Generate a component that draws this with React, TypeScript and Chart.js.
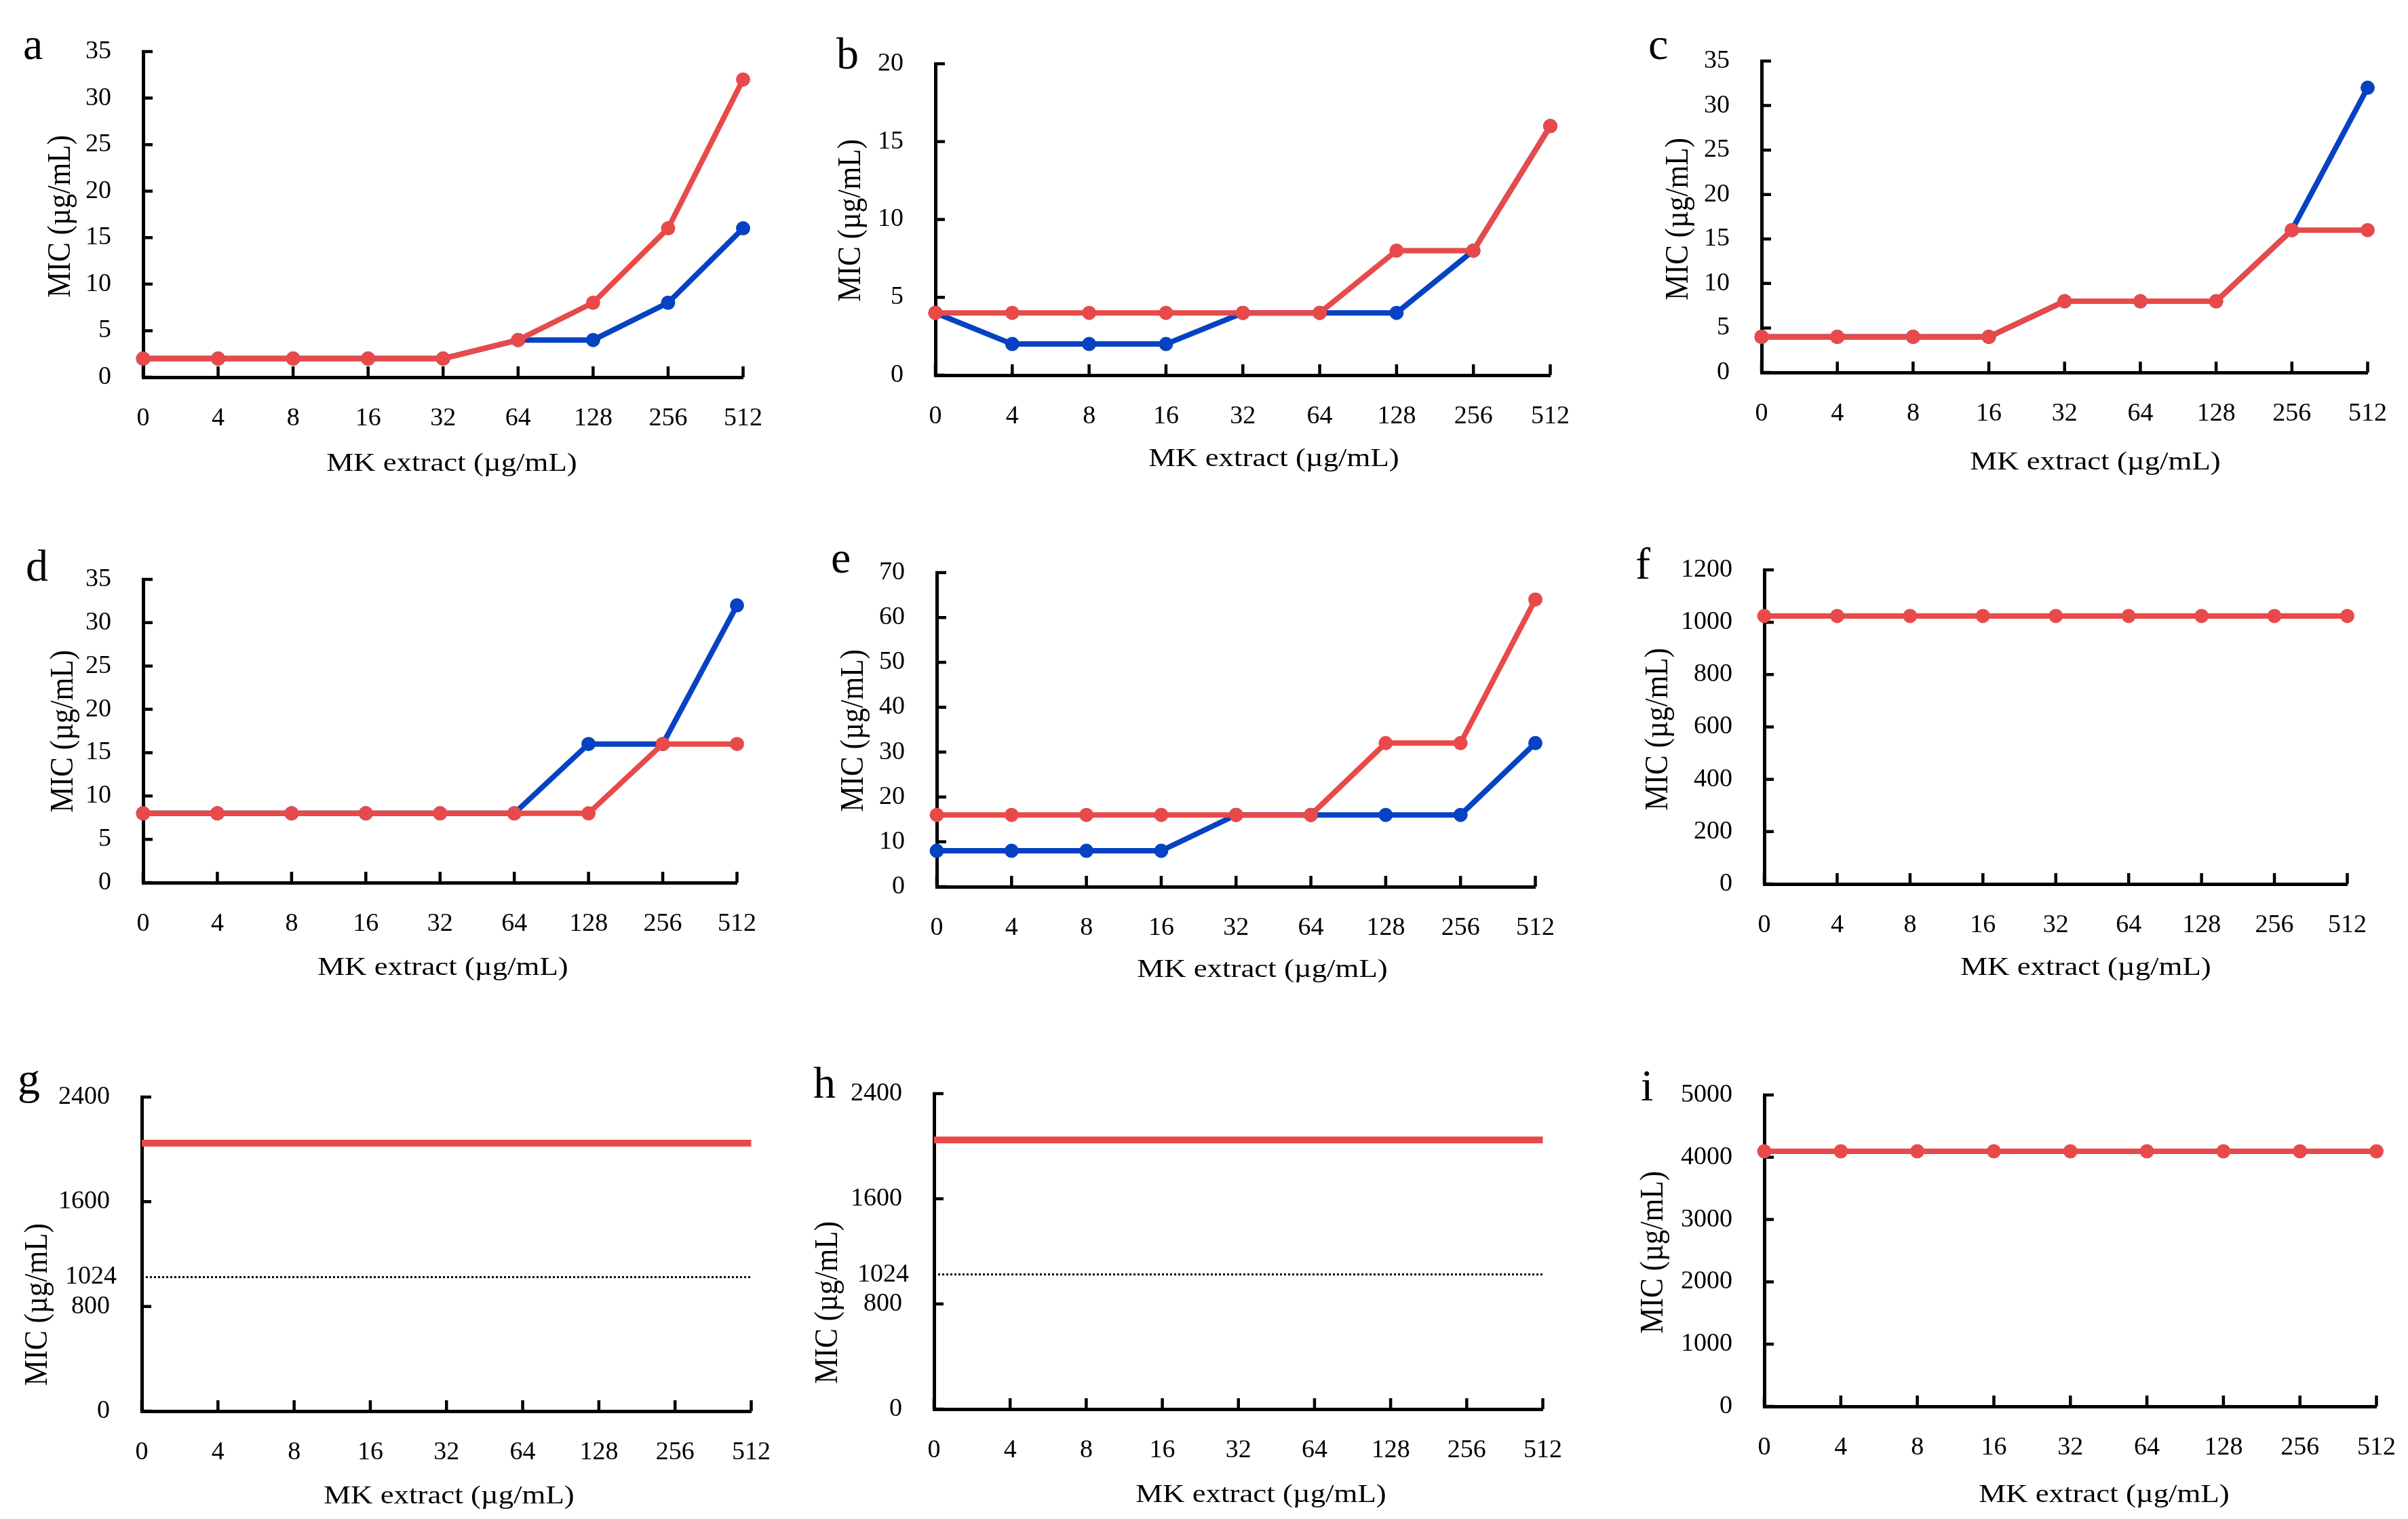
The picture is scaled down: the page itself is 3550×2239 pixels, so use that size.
import React, { useEffect, useRef } from 'react';
import { Chart, registerables } from 'chart.js';

Chart.register(...registerables);

// ---------- data ----------
const CONCENTRATIONS = ['0', '4', '8', '16', '32', '64', '128', '256', '512'];

const A_RED = [2, 2, 2, 2, 2, 4, 8, 16, 32];
const A_BLUE = [2, 2, 2, 2, 2, 4, 4, 8, 16];

const B_RED = [4, 4, 4, 4, 4, 4, 8, 8, 16];
const B_BLUE = [4, 2, 2, 2, 4, 4, 4, 8, 16];

const C_RED = [4, 4, 4, 4, 8, 8, 8, 16, 16];
const C_BLUE = [4, 4, 4, 4, 8, 8, 8, 16, 32];

const D_RED = [8, 8, 8, 8, 8, 8, 8, 16, 16];
const D_BLUE = [8, 8, 8, 8, 8, 8, 16, 16, 32];

const E_RED = [16, 16, 16, 16, 16, 16, 32, 32, 64];
const E_BLUE = [8, 8, 8, 8, 16, 16, 16, 16, 32];

const F_RED = [1024, 1024, 1024, 1024, 1024, 1024, 1024, 1024, 1024];

const G_RED = [2048, 2048, 2048, 2048, 2048, 2048, 2048, 2048, 2048];
const G_REF = [1024, 1024, 1024, 1024, 1024, 1024, 1024, 1024, 1024];

const H_RED = [2048, 2048, 2048, 2048, 2048, 2048, 2048, 2048, 2048];
const H_REF = [1024, 1024, 1024, 1024, 1024, 1024, 1024, 1024, 1024];

const I_RED = [4096, 4096, 4096, 4096, 4096, 4096, 4096, 4096, 4096];

// y-axis ranges [max, step]
const Y_A = [35, 5];
const Y_B = [20, 5];
const Y_C = [35, 5];
const Y_D = [35, 5];
const Y_E = [70, 10];
const Y_F = [1200, 200];
const Y_G = [2400, 800];
const Y_H = [2400, 800];
const Y_I = [5000, 1000];

const X_TITLE = 'MK extract (µg/mL)';
const Y_TITLE = 'MIC (µg/mL)';

// ---------- style ----------
const RED = 'rgb(232,74,74)';
const BLUE = 'rgb(6,66,194)';
const FONT = '"Liberation Serif", "Times New Roman", serif';
const TICK_SIZE = 38;

type Series = { data: number[]; color: string; width: number; points: boolean; dash?: number[] };
type Panel = {
  letter: string;
  area: { l: number; t: number; r: number; b: number };
  letterPos: [number, number];
  xTitlePos: [number, number];
  yTitlePos: [number, number];
  y: number[];
  series: Series[];
  refLabel?: number;
};

const marked = (data: number[], color: string): Series => ({ data, color, width: 8, points: true });

const PANELS: Panel[] = [
  {
    letter: 'a', area: { l: 211, t: 76, r: 1102, b: 556 },
    letterPos: [34, 87], xTitlePos: [666, 684], yTitlePos: [90, 319],
    y: Y_A, series: [marked(A_RED, RED), marked(A_BLUE, BLUE)],
  },
  {
    letter: 'b', area: { l: 1379, t: 94, r: 2292, b: 553 },
    letterPos: [1233, 101], xTitlePos: [1878, 677], yTitlePos: [1255, 325],
    y: Y_B, series: [marked(B_RED, RED), marked(B_BLUE, BLUE)],
  },
  {
    letter: 'c', area: { l: 2597, t: 90, r: 3497, b: 549 },
    letterPos: [2430, 87], xTitlePos: [3089, 682], yTitlePos: [2475, 323],
    y: Y_C, series: [marked(C_RED, RED), marked(C_BLUE, BLUE)],
  },
  {
    letter: 'd', area: { l: 211, t: 854, r: 1093, b: 1301 },
    letterPos: [38, 856], xTitlePos: [653, 1427], yTitlePos: [94, 1078],
    y: Y_D, series: [marked(D_RED, RED), marked(D_BLUE, BLUE)],
  },
  {
    letter: 'e', area: { l: 1381, t: 844, r: 2270, b: 1307 },
    letterPos: [1225, 844], xTitlePos: [1861, 1430], yTitlePos: [1259, 1077],
    y: Y_E, series: [marked(E_RED, RED), marked(E_BLUE, BLUE)],
  },
  {
    letter: 'f', area: { l: 2601, t: 840, r: 3467, b: 1303 },
    letterPos: [2411, 853], xTitlePos: [3075, 1427], yTitlePos: [2445, 1075],
    y: Y_F, series: [marked(F_RED, RED)],
  },
  {
    letter: 'g', area: { l: 209, t: 1617, r: 1114, b: 2080 },
    letterPos: [26, 1612], xTitlePos: [662, 2206], yTitlePos: [56, 1923],
    y: Y_G,
    series: [
      { data: G_RED, color: RED, width: 10, points: false },
      { data: G_REF, color: '#000', width: 3, points: false, dash: [3, 3] },
    ],
    refLabel: G_REF[0],
  },
  {
    letter: 'h', area: { l: 1377, t: 1612, r: 2281, b: 2077 },
    letterPos: [1199, 1618], xTitlePos: [1859, 2204], yTitlePos: [1221, 1920],
    y: Y_H,
    series: [
      { data: H_RED, color: RED, width: 10, points: false },
      { data: H_REF, color: '#000', width: 3, points: false, dash: [3, 3] },
    ],
    refLabel: H_REF[0],
  },
  {
    letter: 'i', area: { l: 2601, t: 1614, r: 3510, b: 2073 },
    letterPos: [2419, 1622], xTitlePos: [3102, 2204], yTitlePos: [2438, 1846],
    y: Y_I, series: [marked(I_RED, RED)],
  },
];

const PAD_L = 210;
const PAD_T = 70;
const PAD_R = 60;
const PAD_B = 170;

function drawText(
  ctx: CanvasRenderingContext2D, text: string, x: number, y: number,
  size: number, sx: number, rot: number, align: CanvasTextAlign = 'center',
  baseline: CanvasTextBaseline = 'middle'
) {
  ctx.save();
  ctx.translate(x, y);
  if (rot) ctx.rotate(rot);
  ctx.scale(sx, 1);
  ctx.font = `${size}px ${FONT}`;
  ctx.fillStyle = '#000';
  ctx.textAlign = align;
  ctx.textBaseline = baseline;
  ctx.fillText(text, 0, 0);
  ctx.restore();
}

function makeDecor(panel: Panel, ox: number, oy: number) {
  return {
    id: 'decor',
    beforeDatasetsDraw(chart: any) {
      const ctx: CanvasRenderingContext2D = chart.ctx;
      const xs = chart.scales.x;
      const ys = chart.scales.y;
      const a = chart.chartArea;
      ctx.save();
      ctx.strokeStyle = '#000';
      ctx.lineWidth = 4.5;
      ctx.beginPath();
      xs.ticks.forEach((_: any, i: number) => {
        const px = xs.getPixelForTick(i);
        ctx.moveTo(px, a.bottom);
        ctx.lineTo(px, a.bottom - 16);
      });
      ys.ticks.forEach((_: any, i: number) => {
        const py = ys.getPixelForTick(i);
        ctx.moveTo(a.left - 2, py);
        ctx.lineTo(a.left + 14, py);
      });
      ctx.stroke();
      ctx.restore();
    },
    afterDraw(chart: any) {
      const ctx: CanvasRenderingContext2D = chart.ctx;
      const a = chart.chartArea;
      drawText(ctx, panel.letter, panel.letterPos[0] - ox, panel.letterPos[1] - oy, 66, 1, 0, 'left', 'alphabetic');
      drawText(ctx, X_TITLE, panel.xTitlePos[0] - ox, panel.xTitlePos[1] - oy, 38, 1.18, 0);
      drawText(ctx, Y_TITLE, panel.yTitlePos[0] - ox, panel.yTitlePos[1] - oy, 48, 0.9, -Math.PI / 2);
      if (panel.refLabel !== undefined) {
        const py = chart.scales.y.getPixelForValue(panel.refLabel);
        drawText(ctx, String(panel.refLabel), a.left - 37, py, TICK_SIZE, 1, 0, 'right', 'middle');
      }
    },
  };
}

function PanelChart({ panel }: { panel: Panel }) {
  const ref = useRef<HTMLCanvasElement>(null);
  const w = panel.area.r - panel.area.l + PAD_L + PAD_R;
  const h = panel.area.b - panel.area.t + PAD_T + PAD_B;
  const ox = panel.area.l - PAD_L;
  const oy = panel.area.t - PAD_T;

  useEffect(() => {
    if (!ref.current) return;
    const tickFont = { family: FONT, size: TICK_SIZE };
    const chart = new Chart(ref.current, {
      type: 'line',
      data: {
        labels: CONCENTRATIONS,
        datasets: panel.series.map((s) => ({
          data: s.data,
          borderColor: s.color,
          backgroundColor: s.color,
          borderWidth: s.width,
          borderDash: s.dash || [],
          pointRadius: s.points ? 10.5 : 0,
          pointHoverRadius: 0,
          pointBorderWidth: 0,
          pointBackgroundColor: s.color,
          tension: 0,
          fill: false,
          clip: false as any,
        })),
      },
      options: {
        animation: false,
        responsive: false,
        events: [],
        layout: { padding: { left: 0, top: PAD_T, right: PAD_R, bottom: 0 } },
        plugins: { legend: { display: false }, tooltip: { enabled: false } },
        scales: {
          x: {
            type: 'category',
            offset: false,
            grid: { display: false, drawTicks: false },
            border: { display: true, color: '#000', width: 5 },
            ticks: { font: tickFont, color: '#000', padding: 38, autoSkip: false, maxRotation: 0 },
            afterFit: (s: any) => { s.height = PAD_B; },
          },
          y: {
            type: 'linear',
            min: 0,
            max: panel.y[0],
            grid: { display: false, drawTicks: false },
            border: { display: true, color: '#000', width: 5 },
            ticks: {
              stepSize: panel.y[1],
              font: tickFont,
              color: '#000',
              padding: 47,
              autoSkip: false,
              callback: (v: any) => String(v),
            },
            afterFit: (s: any) => { s.width = PAD_L; },
          },
        },
      } as any,
      plugins: [makeDecor(panel, ox, oy)],
    });
    return () => chart.destroy();
  }, []);

  return (
    <canvas
      ref={ref}
      width={w}
      height={h}
      style={{ position: 'absolute', left: ox, top: oy, width: w, height: h }}
    />
  );
}

export default function App() {
  return (
    <div
      style={{
        position: 'absolute',
        left: 0,
        top: 0,
        width: 3550,
        height: 2239,
        background: '#fff',
        overflow: 'hidden',
      }}
    >
      {PANELS.map((p) => (
        <PanelChart key={p.letter} panel={p} />
      ))}
    </div>
  );
}
